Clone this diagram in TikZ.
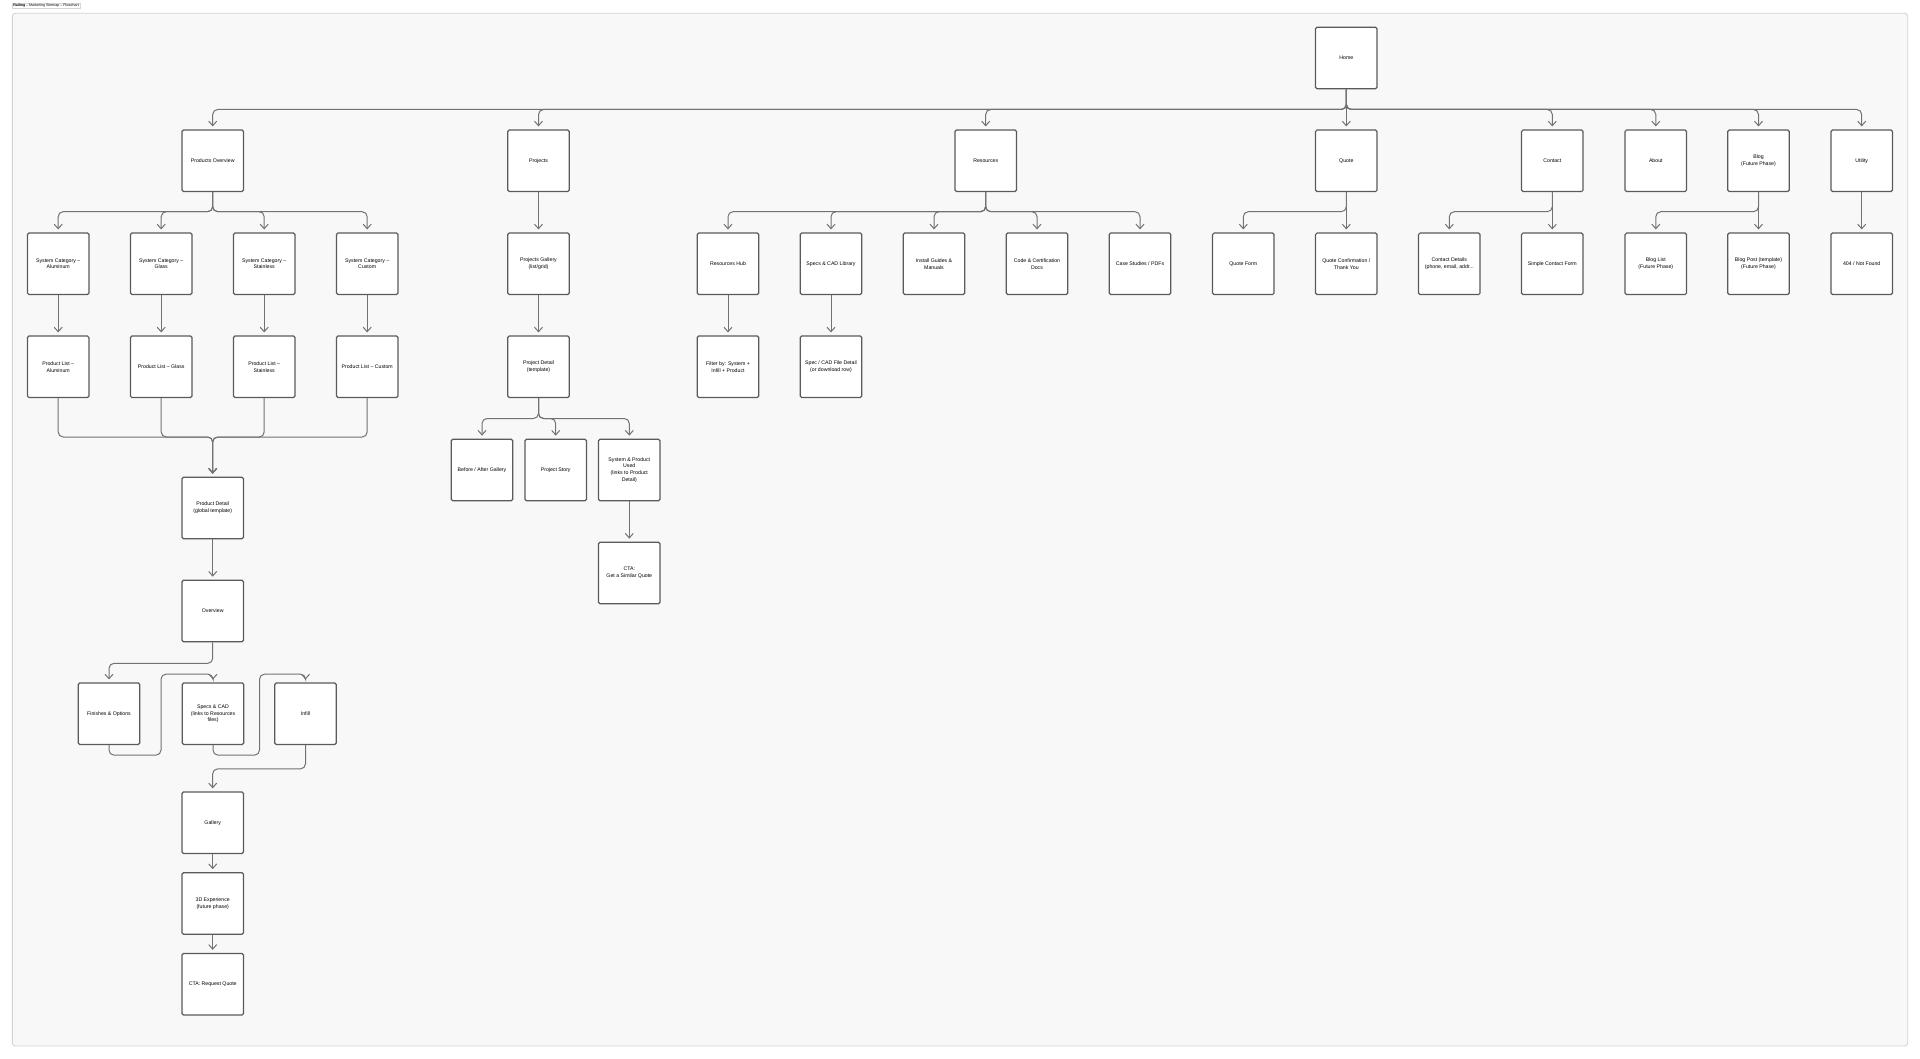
\documentclass[tikz,border=0pt]{standalone}
\usepackage{fontspec}
\setmainfont{Liberation Sans}
\usetikzlibrary{arrows.meta,calc}
\definecolor{boxc}{HTML}{5A5A5A}
\definecolor{linec}{HTML}{727272}
\definecolor{framefill}{HTML}{F8F8F8}
\definecolor{framedraw}{HTML}{D4D4D4}
\newcommand\fsz{\fontsize{5.2}{6.7}\selectfont}
\tikzset{
  pg/.style={draw=boxc, fill=white, line width=1.2pt, rounded corners=1.5pt,
    minimum width=61.5pt, minimum height=61.5pt, inner sep=0pt, align=center, font=\fsz},
  conn/.style={draw=linec, line width=1pt, rounded corners=5pt,
    -{Straight Barb[length=4.5pt,width=8pt]}, shorten >=3pt},
}
\begin{document}
\begin{tikzpicture}[x=1pt,y=-1pt]
\useasboundingbox (0,0) rectangle (1920,1059);
\fill[white] (0,0) rectangle (1920,1059);
\draw[draw=framedraw, fill=framefill, line width=0.9pt, rounded corners=3pt] (12.3,13.3) rectangle (1907.7,1046);
\node[draw=framedraw, fill=white, line width=0.5pt, inner sep=1pt, anchor=west,
  font=\fontsize{3.6}{4}\selectfont] (ttl) at (12,6) {\textbf{Railing} -- Marketing Sitemap -- Flowchart};

% level 0
\node[pg] (home) at (1346.3,58) {Home};
% level 1
\node[pg] (prod) at (212.7,160.8) {Products Overview};
\node[pg] (proj) at (538.5,160.8) {Projects};
\node[pg] (res) at (985.7,160.8) {Resources};
\node[pg] (quote) at (1346.3,160.8) {Quote};
\node[pg] (contact) at (1552.3,160.8) {Contact};
\node[pg] (about) at (1655.8,160.8) {About};
\node[pg] (blog) at (1758.5,160.8) {Blog\\(Future Phase)};
\node[pg] (util) at (1861.7,160.8) {Utility};
% level 2
\node[pg] (sysal) at (58.2,263.8) {System Category –\\Aluminum};
\node[pg] (sysgl) at (161.2,263.8) {System Category –\\Glass};
\node[pg] (sysst) at (264.2,263.8) {System Category –\\Stainless};
\node[pg] (syscu) at (367.2,263.8) {System Category –\\Custom};
\node[pg] (projgal) at (538.5,263.8) {Projects Gallery\\(list/grid)};
\node[pg] (reshub) at (728,263.8) {Resources Hub};
\node[pg] (speclib) at (831,263.8) {Specs \& CAD Library};
\node[pg] (install) at (934,263.8) {Install Guides \&\\Manuals};
\node[pg] (code) at (1037,263.8) {Code \& Certification\\Docs};
\node[pg] (cases) at (1140,263.8) {Case Studies / PDFs};
\node[pg] (qform) at (1243.3,263.8) {Quote Form};
\node[pg] (qconf) at (1346.3,263.8) {Quote Confirmation /\\Thank You};
\node[pg] (cdet) at (1449.3,263.8) {Contact Details\\(phone, email, addr...};
\node[pg] (cform) at (1552.3,263.8) {Simple Contact Form};
\node[pg] (bloglist) at (1655.8,263.8) {Blog List\\(Future Phase)};
\node[pg] (blogpost) at (1758.5,263.8) {Blog Post (template)\\(Future Phase)};
\node[pg] (nf) at (1861.7,263.8) {404 / Not Found};
% level 3
\node[pg] (plal) at (58.2,366.8) {Product List –\\Aluminum};
\node[pg] (plgl) at (161.2,366.8) {Product List – Glass};
\node[pg] (plst) at (264.2,366.8) {Product List –\\Stainless};
\node[pg] (plcu) at (367.2,366.8) {Product List – Custom};
\node[pg] (projdet) at (538.5,366.8) {Project Detail\\(template)};
\node[pg] (filter) at (728,366.8) {Filter by: System +\\Infill + Product};
\node[pg] (specdet) at (831,366.8) {Spec / CAD File Detail\\(or download row)};
% projects lower
\node[pg] (before) at (482,470) {Before / After Gallery};
\node[pg] (story) at (555.7,470) {Project Story};
\node[pg] (used) at (629.3,470) {System \& Product\\Used\\(links to Product\\Detail)};
\node[pg] (ctasim) at (629.3,573) {CTA:\\Get a Similar Quote};
% product detail chain
\node[pg] (pdet) at (212.7,508) {Product Detail\\(global template)};
\node[pg] (over) at (212.7,611) {Overview};
\node[pg] (fin) at (109,713.8) {Finishes \& Options};
\node[pg] (specs) at (213,713.8) {Specs \& CAD\\(links to Resources\\files)};
\node[pg] (infill) at (305.5,713.8) {Infill};
\node[pg] (gal) at (212.7,822.7) {Gallery};
\node[pg] (exp) at (212.7,903.5) {3D Experience\\(future phase)};
\node[pg] (ctaq) at (212.7,984.2) {CTA: Request Quote};

% bus coordinates
\coordinate (bh) at (0,109.5);
\coordinate (bp) at (0,211.7);
\coordinate (bpl) at (0,437);
\coordinate (bpd) at (0,418.5);

% home branches
\foreach \t in {prod,proj,res,contact,about,blog,util}
  \draw[conn] (home.south) -- (home.south |- bh) -| (\t.north);
\draw[conn] (home.south) -- (quote.north);

% products overview
\foreach \t in {sysal,sysgl,sysst,syscu}
  \draw[conn] (prod.south) -- (prod.south |- bp) -| (\t.north);
\draw[conn] (sysal.south) -- (plal.north);
\draw[conn] (sysgl.south) -- (plgl.north);
\draw[conn] (sysst.south) -- (plst.north);
\draw[conn] (syscu.south) -- (plcu.north);
\foreach \s in {plal,plgl,plst,plcu}
  \draw[conn] (\s.south) -- (\s.south |- bpl) -| (pdet.north);
\draw[conn] (pdet.south) -- (over.north);
\draw[conn] (over.south) -- ++(0,21) -| (fin.north);
\draw[conn] (fin.south) -- ++(0,10) -- ++(52,0) -- ++(0,-81) -| (specs.north);
\draw[conn] (specs.south) -- ++(0,10) -- ++(46.5,0) -- ++(0,-81) -| (infill.north);
\draw[conn] (infill.south) -- ++(0,23.7) -| (gal.north);
\draw[conn] (gal.south) -- (exp.north);
\draw[conn] (exp.south) -- (ctaq.north);

% projects
\draw[conn] (proj.south) -- (projgal.north);
\draw[conn] (projgal.south) -- (projdet.north);
\foreach \t in {before,story,used}
  \draw[conn] (projdet.south) -- (projdet.south |- bpd) -| (\t.north);
\draw[conn] (used.south) -- (ctasim.north);

% resources
\foreach \t in {reshub,speclib,install,code,cases}
  \draw[conn] (res.south) -- (res.south |- bp) -| (\t.north);
\draw[conn] (reshub.south) -- (filter.north);
\draw[conn] (speclib.south) -- (specdet.north);

% quote, contact, blog, utility
\draw[conn] (quote.south) -- (quote.south |- bp) -| (qform.north);
\draw[conn] (quote.south) -- (qconf.north);
\draw[conn] (contact.south) -- (contact.south |- bp) -| (cdet.north);
\draw[conn] (contact.south) -- (cform.north);
\draw[conn] (blog.south) -- (blog.south |- bp) -| (bloglist.north);
\draw[conn] (blog.south) -- (blogpost.north);
\draw[conn] (util.south) -- (nf.north);
\end{tikzpicture}
\end{document}
